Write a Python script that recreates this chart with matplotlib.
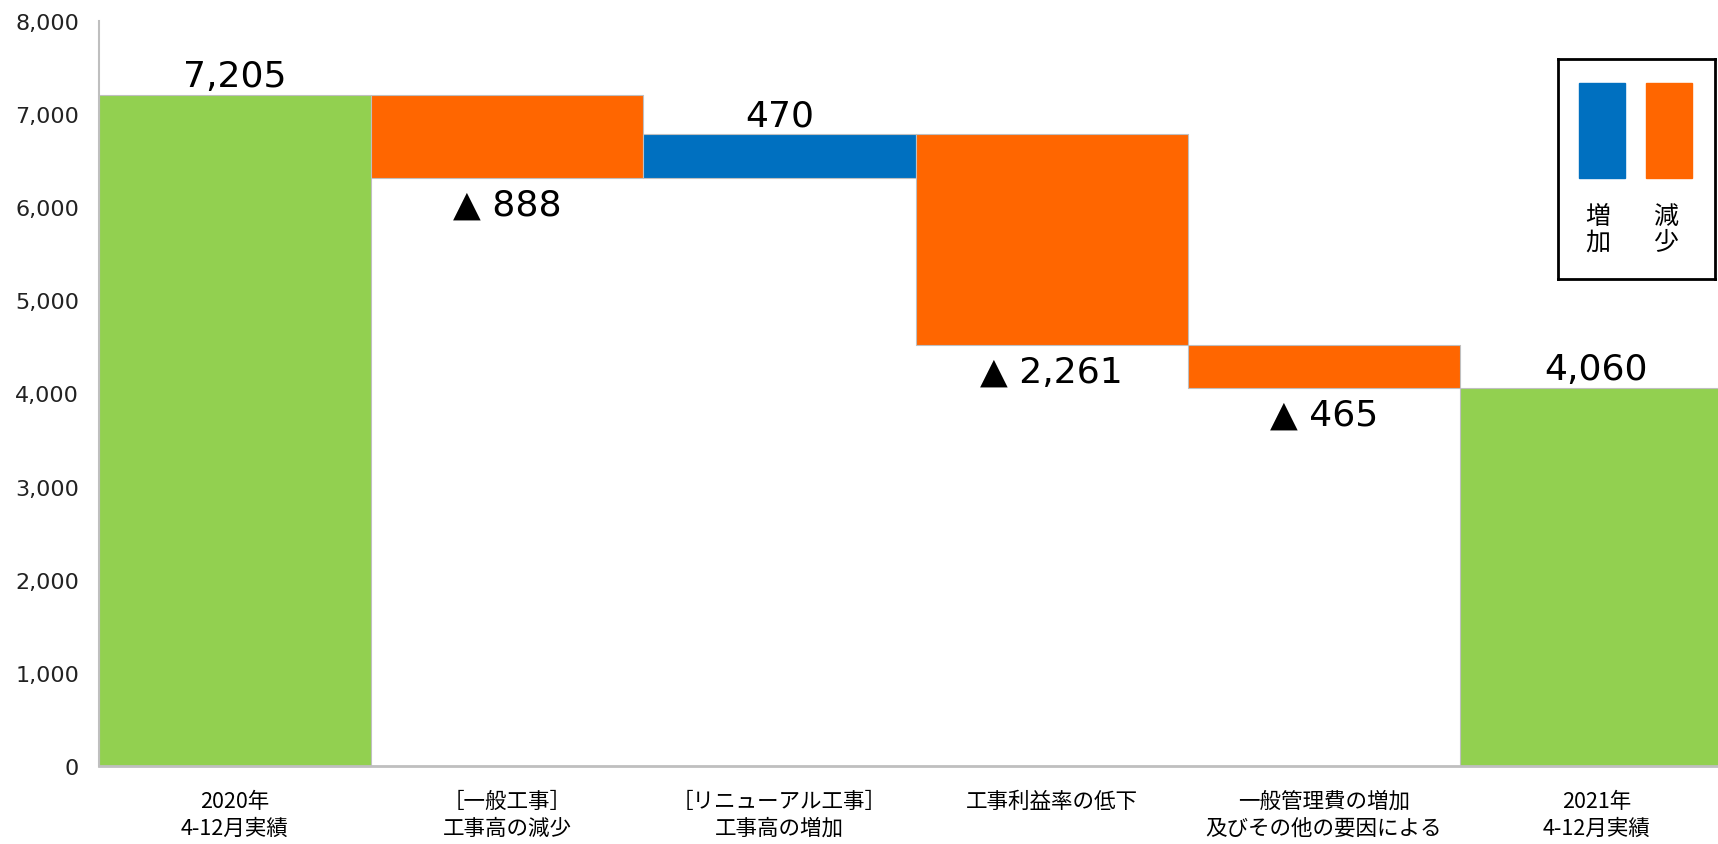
import matplotlib.pyplot as plt
import matplotlib.patches as mpatches
import numpy as np

# data
categories = ['2020年\n4-12月実績', '［一般工事］\n工事高の減少', '［リニューアル工事］\n工事高の増加',
              '工事利益率の低下', '一般管理費の増加\n及びその他の要因による', '2021年\n4-12月実績']
changes = [7205, -888, 470, -2261, -465, 4060]
kinds = ['total', 'delta', 'delta', 'delta', 'delta', 'total']
yticks = [0, 1000, 2000, 3000, 4000, 5000, 6000, 7000, 8000]

GREEN = '#92D050'
BLUE = '#0070C0'
ORANGE = '#FF6600'
EDGE = '#BFBFBF'

plt.rcParams['font.family'] = ['DejaVu Sans', 'Noto Sans CJK JP']


def waterfall_geometry(changes, kinds):
    bottoms, heights, colors = [], [], []
    level = 0
    for v, k in zip(changes, kinds):
        if k == 'total':
            bottoms.append(0)
            heights.append(v)
            colors.append(GREEN)
            level = v
        else:
            if v >= 0:
                bottoms.append(level)
                colors.append(BLUE)
            else:
                bottoms.append(level + v)
                colors.append(ORANGE)
            heights.append(abs(v))
            level += v
    return np.array(bottoms), np.array(heights), colors


def main():
    fig = plt.figure(figsize=(17.18, 8.45), dpi=100)
    ax = fig.add_axes([0.0574, 0.0923, 0.9426, 0.8817])

    x = np.arange(len(categories))
    bottoms, heights, colors = waterfall_geometry(changes, kinds)
    ax.bar(x, heights, bottom=bottoms, width=1.0, color=colors,
           edgecolor=EDGE, linewidth=0.8)

    # data labels
    for xi, v, k, b, h in zip(x, changes, kinds, bottoms, heights):
        if k == 'total' or v >= 0:
            ax.text(xi, b + h + 20, f'{v:,}', ha='center', va='bottom', fontsize=26)
        else:
            ax.text(xi, b - 110, f'▲ {abs(v):,}', ha='center', va='top', fontsize=26)

    ax.set_xlim(-0.5, 5.447)
    ax.set_ylim(0, 8000)
    ax.set_yticks(yticks)
    ax.set_yticklabels([f'{t:,}' for t in yticks], fontsize=16, color='#222222')
    ax.set_xticks(x)
    ax.set_xticklabels(categories, fontsize=15.5, family=['Noto Sans CJK JP', 'DejaVu Sans'],
                       linespacing=1.3)
    ax.tick_params(axis='both', length=0)
    ax.tick_params(axis='x', pad=17)
    ax.tick_params(axis='y', pad=14)
    for s in ['top', 'right']:
        ax.spines[s].set_visible(False)
    ax.spines['left'].set_color(EDGE)
    ax.spines['left'].set_linewidth(1.5)
    ax.spines['bottom'].set_color(EDGE)
    ax.spines['bottom'].set_linewidth(2)

    # custom legend box
    lax = fig.add_axes([1558 / 1718, 1 - 280 / 845, 157 / 1718, 220 / 845])
    lax.set_xlim(0, 157)
    lax.set_ylim(220, 0)
    lax.set_xticks([])
    lax.set_yticks([])
    for s in lax.spines.values():
        s.set_linewidth(2)
        s.set_color('black')
    lax.add_patch(mpatches.Rectangle((21, 24), 46, 95, color=BLUE))
    lax.add_patch(mpatches.Rectangle((88, 24), 46, 95, color=ORANGE))
    lax.text(40, 170, '増\n加', ha='center', va='center', fontsize=18,
             family=['Noto Sans CJK JP'], linespacing=1.0)
    lax.text(108, 170, '減\n少', ha='center', va='center', fontsize=18,
             family=['Noto Sans CJK JP'], linespacing=1.0)

    fig.savefig('out.png', dpi=100)


if __name__ == '__main__':
    main()
